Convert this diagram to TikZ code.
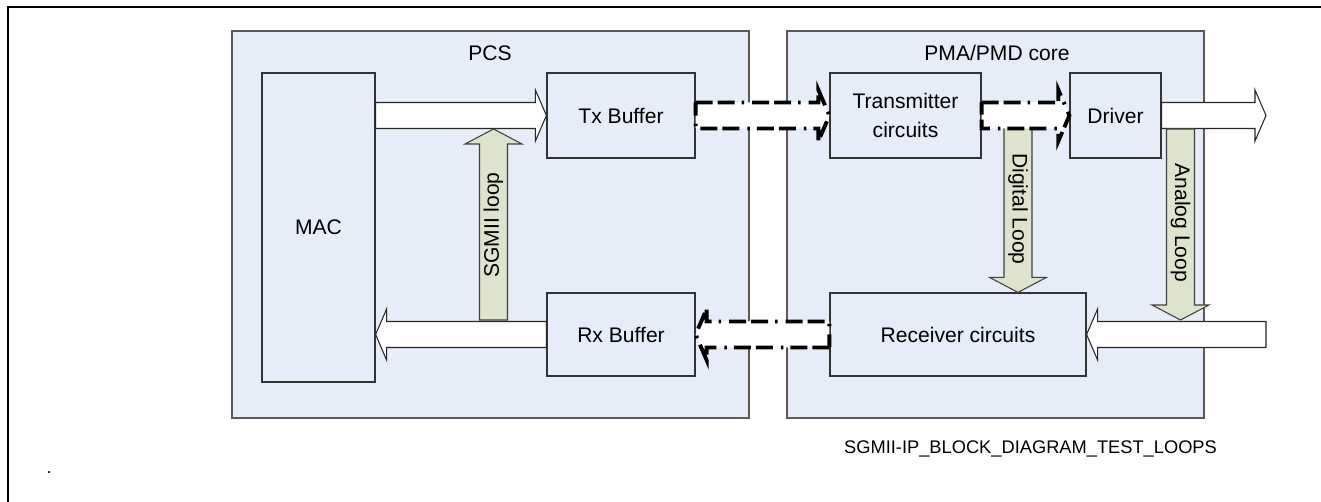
\documentclass[tikz,border=0pt]{standalone}
\usepackage{fontspec}
\setmainfont{Liberation Sans}
\usetikzlibrary{calc}
\definecolor{boxblue}{RGB}{230,237,248}
\definecolor{loopgreen}{RGB}{221,227,204}
\tikzset{shaft/.store in=\shaftw, headw/.store in=\headw, headl/.store in=\headl,
	shaft=0.26cm, headw=0.51cm, headl=0.22cm,
	fat/.style={to path={
		($(\tikztostart)!\shaftw!90:(\tikztotarget)$)
		-- ($(\tikztotarget)!\headl!(\tikztostart)!\shaftw!-90:(\tikztostart)$)
		-- ($(\tikztotarget)!\headl!(\tikztostart)!\headw!-90:(\tikztostart)$)
		-- (\tikztotarget)
		-- ($(\tikztotarget)!\headl!(\tikztostart)!\headw!90:(\tikztostart)$)
		-- ($(\tikztotarget)!\headl!(\tikztostart)!\shaftw!90:(\tikztostart)$)
		-- ($(\tikztostart)!\shaftw!-90:(\tikztotarget)$) -- cycle}},
	layer/.style={draw=black!65,fill=boxblue,line width=0.8pt,inner sep=0pt},
	block/.style={draw=black!80,fill=boxblue,line width=0.7pt,inner sep=0pt,align=center,
		font=\fontsize{12}{16}\selectfont},
	title/.style={font=\fontsize{12}{16}\selectfont,inner sep=0pt},
	flow/.style={fat,draw=black!85,fill=white,line width=0.6pt},
	link/.style={fat,draw=black,fill=white,line width=2.2pt,
		dash pattern=on 0.34cm off 0.1cm on 0.34cm off 0.14cm on 0.05cm off 0.16cm},
	looparrow/.style={fat,draw=black!75,fill=loopgreen,line width=0.6pt,
		shaft=0.28cm, headw=0.57cm, headl=0.3cm},
	looplabel/.style={font=\fontsize{12}{16}\selectfont,inner sep=0pt}}

\begin{document}
\begin{tikzpicture}[x=0.02cm,y=-0.02cm]
	\useasboundingbox (0,0) rectangle (1321,502);
	\draw[line width=1.1pt] (8,502) -- (8,7) -- (1321,7);
	% the two layers
	\node[layer,minimum width=10.34cm,minimum height=7.74cm] (pcs) at (490.5,224.5) {};
	\node[layer,minimum width=8.34cm,minimum height=7.74cm] (pma) at (995.5,224.5) {};
	\node[title] (pcstitle) at (490,53) {PCS};
	\node[title] (pmatitle) at (997,53) {PMA/PMD core};
	% blocks
	\node[block,minimum width=2.26cm,minimum height=6.18cm] (mac) at (318.5,227.5) {MAC};
	\node[block,minimum width=2.96cm,minimum height=1.70cm] (txbuf) at (621,115.5) {Tx Buffer};
	\node[block,minimum width=2.96cm,minimum height=1.66cm] (rxbuf) at (621,334.5) {Rx Buffer};
	\node[block,minimum width=3.02cm,minimum height=1.70cm] (txcirc) at (905.5,115.5) {Transmitter\\circuits};
	\node[block,minimum width=1.82cm,minimum height=1.70cm] (driver) at (1115.5,115.5) {Driver};
	\node[block,minimum width=5.12cm,minimum height=1.66cm] (rxcirc) at (958,334.5) {Receiver circuits};
	% ends of the arrows
	\coordinate (macout) at (mac.east |- txbuf.west);
	\coordinate (macin) at (mac.east |- rxbuf.west);
	\coordinate (txout) at (1266,115.5);
	\coordinate (rxin) at (1266,334.5);
	\coordinate (sgmiibot) at (493.5,320);
	\coordinate (sgmiitop) at (493.5,129);
	\coordinate (digtop) at (1018,127);
	\coordinate (digtip) at (rxcirc.north -| digtop);
	\coordinate (anatop) at (1180.5,129);
	\coordinate (anatip) at (1180.5,320);
	% data paths
	\draw[flow] (macout) to (txbuf.west);
	\draw[flow] (rxbuf.west) to (macin);
	\draw[flow] (driver.east) to (txout);
	\draw[flow] (rxin) to (rxcirc.east);
	% test loops
	\draw[looparrow] (sgmiibot) to (sgmiitop);
	\draw[looparrow] (digtop) to (digtip);
	\draw[looparrow] (anatop) to (anatip);
	\draw[link] (txbuf.east) to (txcirc.west);
	\draw[link] (txcirc.east) to (driver.west);
	\draw[link] (rxcirc.west) to (rxbuf.east);
	\node[looplabel,rotate=90] (sgmiilabel) at (493.5,225) {SGMII loop};
	\node[looplabel,rotate=-90] (diglabel) at (1018,209) {Digital Loop};
	\node[looplabel,rotate=-90] (analabel) at (1180.5,223) {Analog Loop};
	% caption
	\node[inner sep=0pt,font=\fontsize{10.4}{12}\selectfont] (caption) at (1030.5,449)
		{SGMII-IP\_BLOCK\_DIAGRAM\_TEST\_LOOPS};
	\node[inner sep=0pt] (dot) at (49,473) {.};
\end{tikzpicture}
\end{document}
